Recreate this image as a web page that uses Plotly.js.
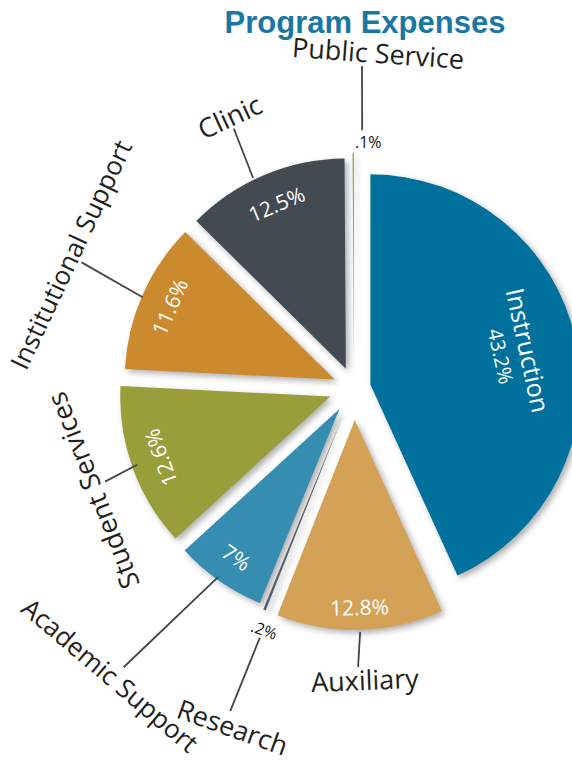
<!DOCTYPE html>
<html><head><meta charset="utf-8">
<script src="https://cdn.plot.ly/plotly-3.0.1.min.js"></script>
<style>
html,body{margin:0;padding:0;overflow:hidden;background:#fff;}
#chart{width:616px;height:767px;}
.slice path.surface{filter:drop-shadow(3px 3px 3px rgba(0,0,0,0.32));}
</style></head><body><div id="chart"></div>
<script>
// ---- data ----
const labels = ['Instruction','Auxiliary','Research','Academic Support','Student Services','Institutional Support','Clinic','Public Service'];
const values = [43.2, 12.8, 0.2, 7.0, 12.6, 11.6, 12.5, 0.1];

// ---- style ----
const colors = ['#00709c','#d4a257','#5b6570','#358eb1','#9a9e3a','#cb8a2e','#434a52','#9a9e3a'];
const pulls  = [0.08, 0.152, 0.14, 0.12, 0.12, 0.10, 0.10, 0.12];
// inside text: radial position as fraction of radius (null = shown outside, small)
const insideFrac = [0.71, 0.89, null, 0.86, 0.86, 0.86, 0.85, null];
// outside label placement: [angle offset from slice mid-angle (deg), radius px, font size]
const labelPos = [null,[-0.8,292,27],[-2.2,360,27],[5.4,376,26],[-1.6,281,27],[1.5,313,26],[-1.8,299,27],[4.2,336,27]];
// leader lines: [a1 offset, r1, a2 offset, r2]
const linePos = [null,[0,244,0.6,279],[-1.3,267,-1.0,346],[0.8,233,4.6,362],[0.3,230,-0.8,266],[-0.5,230,1.0,300],[-2.8,233,-2.0,286],[2.0,258,1.6,322]];
// small outside percent labels: [angle offset, radius, rotation]
const smallPct = {2:[-1.7,258,20], 7:[3.5,246,0]};

const W=616, H=767, L=112, T=146, S=484;
const CX=L+S/2, CY=T+S/2;
const maxPull = Math.max(...pulls);
const R = S/(2+2*maxPull);
const px2x = px => (px-L)/S;
const py2y = py => 1-(py-T)/S;
const total = values.reduce((a,b)=>a+b,0);
let acc=0;
const mids = values.map(v=>{const m=(acc+v/2)/total*360; acc+=v; return m;});
function polarFrom(cx, cy, ang, r){const a=ang*Math.PI/180; return [cx + r*Math.sin(a), cy - r*Math.cos(a)];}
const polar = (ang, r) => polarFrom(CX, CY, ang, r);
function tangentAngle(ang){let t=((ang%360)+360)%360; if(t>90 && t<240) return t-180; if(t>=240) return t-360; return t;}
const pctText = values.map(v => String(v).replace(/^0/,'') + '%');

const trace = {
  type:'pie', labels:labels, values:values, sort:false, direction:'clockwise', rotation:0,
  pull:pulls, marker:{colors:colors, line:{width:0}},
  textinfo:'none', hoverinfo:'none', showlegend:false, domain:{x:[0,1], y:[0,1]}
};

const annotations = [];
const shapes = [];
labels.forEach((l,i)=>{
  if(insideFrac[i] !== null){
    const apex = polar(mids[i], pulls[i]*R);
    const p = polarFrom(apex[0], apex[1], mids[i], insideFrac[i]*R);
    const txt = (i===0) ? '<span style="font-size:25px">' + l + '</span><br>' + pctText[i] : pctText[i];
    annotations.push({text:txt, x:px2x(p[0]), y:py2y(p[1]), xref:'paper', yref:'paper', showarrow:false,
      xanchor:'center', yanchor:'middle', textangle:tangentAngle(mids[i]),
      font:{family:'Open Sans', size:(i===0?20:21), color:'#ffffff'}});
  }
  if(labelPos[i]){
    const ang = mids[i]+labelPos[i][0];
    const p = polar(ang, labelPos[i][1]);
    annotations.push({text:l, x:px2x(p[0]), y:py2y(p[1]), xref:'paper', yref:'paper', showarrow:false,
      xanchor:'center', yanchor:'middle', textangle:tangentAngle(ang),
      font:{family:'Open Sans', size:labelPos[i][2], color:'#231f20'}});
  }
  if(linePos[i]){
    const q=linePos[i];
    const a=polar(mids[i]+q[0], q[1]), b=polar(mids[i]+q[2], q[3]);
    shapes.push({type:'line', xref:'paper', yref:'paper', x0:px2x(a[0]), y0:py2y(a[1]), x1:px2x(b[0]), y1:py2y(b[1]),
      line:{color:'#454545', width:1.8}});
  }
  if(smallPct[i]){
    const s=smallPct[i];
    const p=polar(mids[i]+s[0], s[1]);
    annotations.push({text:pctText[i], x:px2x(p[0]), y:py2y(p[1]), xref:'paper', yref:'paper', showarrow:false,
      xanchor:'center', yanchor:'middle', textangle:s[2], font:{family:'Open Sans', size:16, color:'#111111'}});
  }
});

const layout = {
  width:W, height:H, margin:{l:L, t:T, r:W-L-S, b:H-T-S},
  paper_bgcolor:'#ffffff', plot_bgcolor:'#ffffff',
  title:{text:'<b>Program Expenses</b>', font:{family:'Liberation Sans, Arial', size:31, color:'#1a76a2'},
    xref:'container', yref:'container', x:365/W, xanchor:'center', y:1-22/H, yanchor:'middle'},
  annotations:annotations, shapes:shapes
};
Plotly.newPlot('chart',[trace],layout,{displayModeBar:false, staticPlot:true});
</script></body></html>
